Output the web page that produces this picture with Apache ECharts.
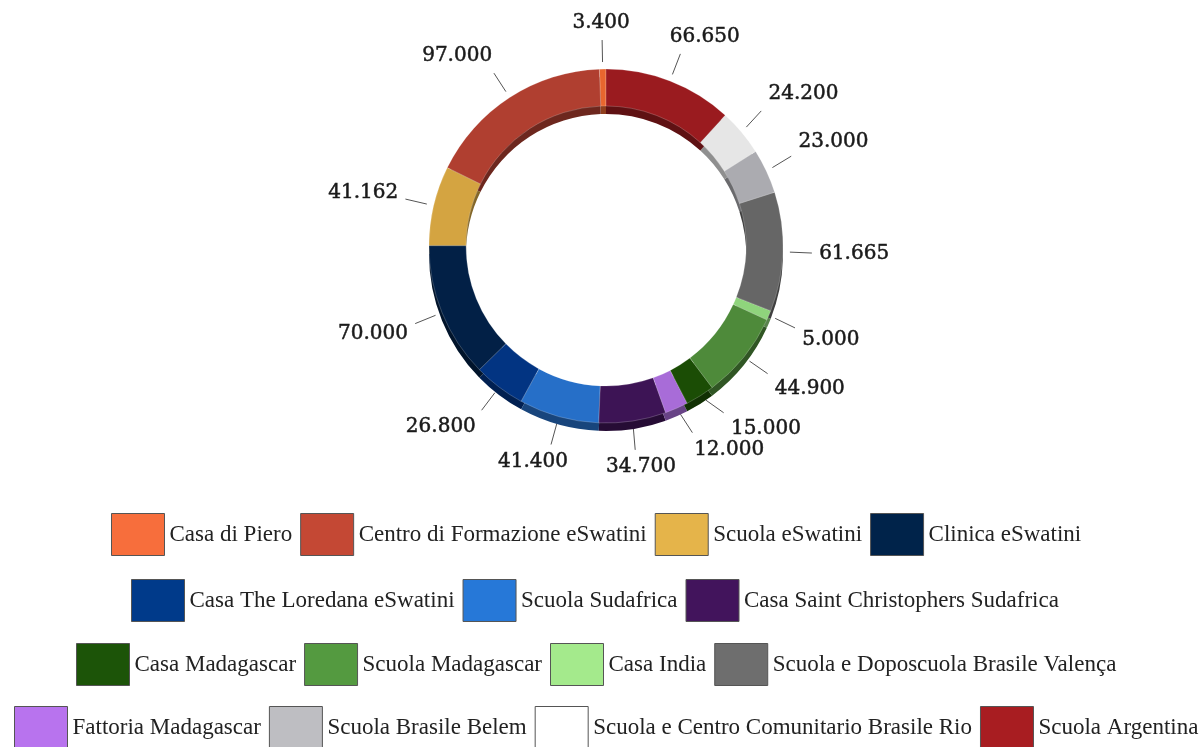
<!DOCTYPE html>
<html>
<head>
<meta charset="utf-8">
<script src="https://cdn.jsdelivr.net/npm/echarts@6/dist/echarts.min.js"></script>
<style>
html,body{margin:0;padding:0;background:#fff;}
#chart{width:1204px;height:747px;}
</style>
</head>
<body>
<div id="chart"></div>
<script>
// Data in pie drawing order (counter-clockwise from 12 o'clock)
var names = [
  'Casa di Piero',
  'Centro di Formazione eSwatini',
  'Scuola eSwatini',
  'Clinica eSwatini',
  'Casa The Loredana eSwatini',
  'Scuola Sudafrica',
  'Casa Saint Christophers Sudafrica',
  'Fattoria Madagascar',
  'Casa Madagascar',
  'Scuola Madagascar',
  'Casa India',
  'Scuola e Doposcuola Brasile Valença',
  'Scuola Brasile Belem',
  'Scuola e Centro Comunitario Brasile Rio',
  'Scuola Argentina'
];
var values = [3400, 97000, 41162, 70000, 26800, 41400, 34700, 12000, 15000, 44900, 5000, 61665, 23000, 24200, 66650];
var pieColors = ['#E8662E', '#B03F30', '#D4A441', '#022046', '#023482', '#266FC8', '#3D1455', '#A86CD8', '#1B4D05', '#4E8A3A', '#8FD47C', '#666666', '#ABABB0', '#E6E6E6', '#9A1B1F'];
var legendColors = ['#F76E3C', '#C44834', '#E5B44A', '#00234A', '#003A8A', '#2678D8', '#42145C', '#B873EE', '#1C5408', '#549A40', '#A4EA8C', '#6E6E6E', '#BEBEC2', '#FFFFFF', '#A81D21'];
// Legend rows (in displayed order)
var legendRow1 = ['Casa di Piero', 'Centro di Formazione eSwatini', 'Scuola eSwatini', 'Clinica eSwatini'];
var legendRow2 = ['Casa The Loredana eSwatini', 'Scuola Sudafrica', 'Casa Saint Christophers Sudafrica'];
var legendRow3 = ['Casa Madagascar', 'Scuola Madagascar', 'Casa India', 'Scuola e Doposcuola Brasile Valença'];
var legendRow4 = ['Fattoria Madagascar', 'Scuola Brasile Belem', 'Scuola e Centro Comunitario Brasile Rio', 'Scuola Argentina'];

function darken(hex, f) {
  var r = parseInt(hex.substr(1, 2), 16), g = parseInt(hex.substr(3, 2), 16), b = parseInt(hex.substr(5, 2), 16);
  return 'rgb(' + Math.round(r * f) + ',' + Math.round(g * f) + ',' + Math.round(b * f) + ')';
}
function fmt(v) {
  return String(v).replace(/\B(?=(\d{3})+(?!\d))/g, '.');
}

var mainData = names.map(function (n, i) {
  return { name: n, value: values[i], itemStyle: { color: pieColors[i] } };
});
var shadowData = names.map(function (n, i) {
  return { name: n, value: values[i], itemStyle: { color: darken(pieColors[i], 0.62) } };
});

var LEG_FONT = '23px "Liberation Serif"', ICON_W = 53, ICON_H = 42, ITEM_GAP = 8;
var measureCtx = document.createElement('canvas').getContext('2d');
measureCtx.font = LEG_FONT;
function legendRow(row, top, centerX) {
  var w = 0;
  row.forEach(function (n, k) {
    w += ICON_W + 5 + measureCtx.measureText(n).width + (k > 0 ? ITEM_GAP : 0);
  });
  return {
    left: Math.round(centerX - w / 2),
    top: top,
    orient: 'horizontal',
    icon: 'rect',
    itemWidth: ICON_W,
    itemHeight: ICON_H,
    itemGap: ITEM_GAP,
    padding: 0,
    selectedMode: false,
    textStyle: { fontFamily: 'Liberation Serif', fontSize: 23, color: '#222' },
    data: row.map(function (n) {
      var i = names.indexOf(n);
      return { name: n, itemStyle: { color: legendColors[i], borderColor: '#555', borderWidth: 1 } };
    })
  };
}

var GAP = 7, LEN = 22, K = 1.6;
function clamp1(v) { return Math.max(-1, Math.min(1, v)); }
var option = {
  animation: false,
  backgroundColor: '#fff',
  legend: [legendRow(legendRow1, 513, 595), legendRow(legendRow2, 579, 594), legendRow(legendRow3, 643, 595), legendRow(legendRow4, 706, 605)],
  series: [
    {
      type: 'pie',
      silent: true,
      center: [606, 254],
      radius: [140, 177],
      startAngle: 90,
      clockwise: false,
      avoidLabelOverlap: false,
      label: { show: false },
      labelLine: { show: false },
      data: shadowData
    },
    {
      type: 'pie',
      center: [606, 246],
      radius: [140, 177],
      startAngle: 90,
      clockwise: false,
      avoidLabelOverlap: true,
      itemStyle: { borderColor: 'rgba(255,255,255,0.35)', borderWidth: 0.6 },
      label: {
        show: true,
        position: 'outside',
        formatter: function (p) { return fmt(p.value); },
        fontFamily: 'DejaVu Serif',
        fontSize: 20,
        color: '#1a1a1a',
        textBorderColor: '#1a1a1a',
        textBorderWidth: 0.5
      },
      labelLine: { show: true, length: 22, length2: 0, lineStyle: { color: '#555', width: 1 } },
      labelLayout: function (p) {
        var pts = p.labelLinePoints;
        if (!pts) return {};
        var x0 = pts[0][0], y0 = pts[0][1], x1 = pts[1][0], y1 = pts[1][1];
        var dx = x1 - x0, dy = y1 - y0, len = Math.sqrt(dx * dx + dy * dy) || 1;
        var ux = dx / len, uy = dy / len;
        var s = [x0 + ux * GAP, y0 + uy * GAP];
        var e = [x0 + ux * (GAP + LEN), y0 + uy * (GAP + LEN)];
        var w = p.labelRect.width;
        return {
          x: e[0] + clamp1(ux * K) * (w / 2 + 7),
          y: e[1] + clamp1(uy * K) * (10 + 7),
          align: 'center',
          verticalAlign: 'middle',
          labelLinePoints: [s, e]
        };
      },
      data: mainData
    }
  ]
};
var chart = echarts.init(document.getElementById('chart'), null, { renderer: 'canvas' });
chart.setOption(option);
</script>
</body>
</html>
